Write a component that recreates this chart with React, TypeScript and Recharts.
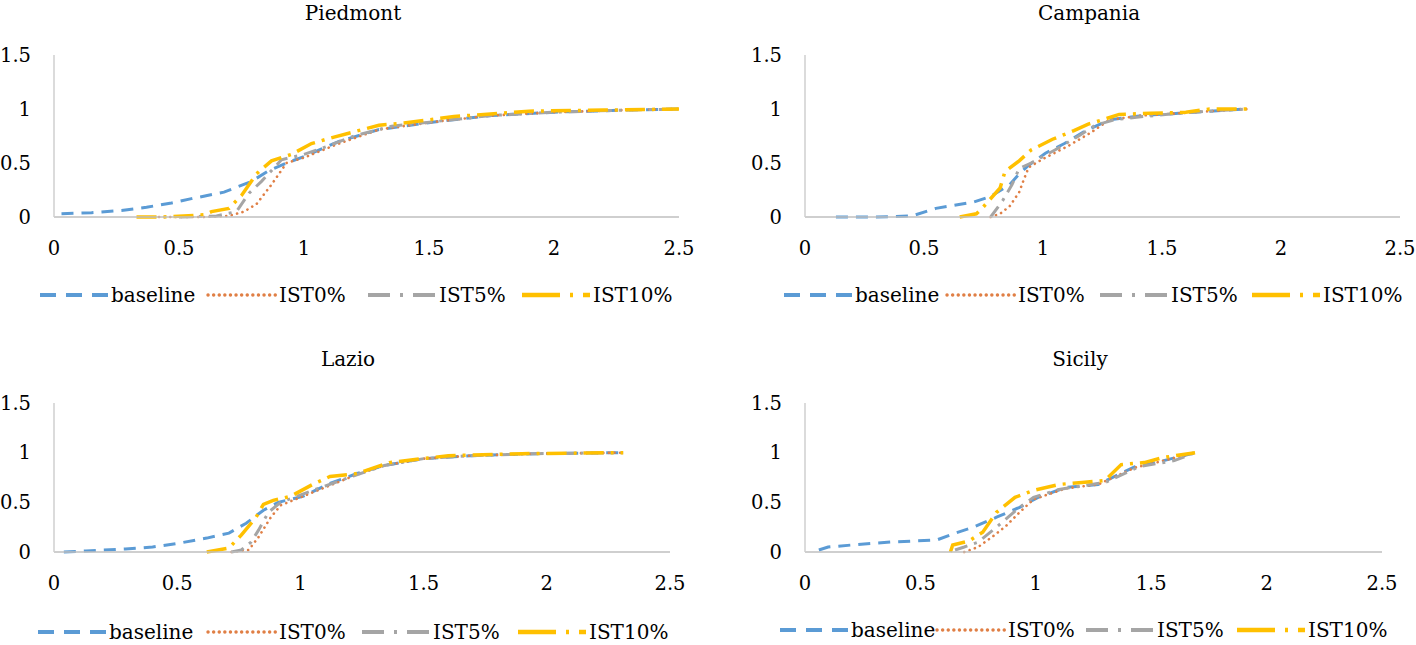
import React from "react";
import { LineChart, Line, XAxis, YAxis } from "recharts";

// ---------- data ([x, y] pairs) ----------
const piedmontBaseline = [[0.03,0.03],[0.15,0.04],[0.27,0.06],[0.37,0.09],[0.47,0.13],[0.55,0.17],[0.68,0.23],[0.79,0.33],[0.86,0.43],[0.93,0.5],[1.0,0.56],[1.14,0.7],[1.3,0.81],[1.52,0.88],[1.75,0.94],[2.0,0.97],[2.28,0.99],[2.5,1.0]];
const piedmontIST0 = [[0.42,0],[0.6,0],[0.7,0.01],[0.76,0.05],[0.81,0.12],[0.87,0.3],[0.93,0.5],[1.0,0.55],[1.14,0.68],[1.3,0.81],[1.52,0.88],[1.75,0.94],[2.0,0.97],[2.28,0.99],[2.5,1.0]];
const piedmontIST5 = [[0.5,0],[0.65,0.01],[0.73,0.05],[0.78,0.22],[0.83,0.33],[0.91,0.53],[1.0,0.58],[1.1,0.66],[1.2,0.75],[1.35,0.84],[1.55,0.89],[1.75,0.94],[2.0,0.97],[2.28,0.99],[2.5,1.0]];
const piedmontIST10 = [[0.33,0],[0.43,0],[0.6,0.02],[0.63,0.05],[0.7,0.08],[0.75,0.2],[0.81,0.4],[0.87,0.52],[0.95,0.58],[1.03,0.68],[1.12,0.74],[1.3,0.85],[1.4,0.87],[1.6,0.93],[1.9,0.98],[2.2,0.99],[2.5,1.0]];

const campaniaBaseline = [[0.13,0],[0.3,0],[0.45,0.01],[0.55,0.08],[0.71,0.14],[0.78,0.19],[0.86,0.3],[0.9,0.4],[0.94,0.48],[1.01,0.59],[1.09,0.68],[1.18,0.8],[1.28,0.9],[1.42,0.94],[1.57,0.96],[1.7,0.98],[1.86,1.0]];
const campaniaIST0 = [[0.78,0],[0.82,0.03],[0.86,0.1],[0.9,0.23],[0.92,0.35],[0.94,0.46],[1.01,0.55],[1.1,0.65],[1.2,0.78],[1.28,0.9],[1.42,0.94],[1.57,0.96],[1.7,0.98],[1.86,1.0]];
const campaniaIST5 = [[0.78,0],[0.83,0.15],[0.87,0.3],[0.9,0.45],[0.95,0.5],[1.05,0.62],[1.15,0.75],[1.22,0.85],[1.3,0.9],[1.42,0.93],[1.57,0.96],[1.7,0.98],[1.86,1.0]];
const campaniaIST10 = [[0.65,0],[0.72,0.03],[0.74,0.07],[0.82,0.27],[0.84,0.42],[0.9,0.52],[0.95,0.62],[1.04,0.72],[1.13,0.8],[1.19,0.86],[1.25,0.9],[1.32,0.95],[1.45,0.96],[1.6,0.97],[1.7,1.0],[1.86,1.0]];

const lazioBaseline = [[0.04,0],[0.13,0.01],[0.29,0.03],[0.4,0.05],[0.51,0.09],[0.62,0.14],[0.71,0.19],[0.78,0.29],[0.85,0.42],[0.91,0.5],[1.01,0.56],[1.12,0.69],[1.23,0.79],[1.34,0.87],[1.5,0.94],[1.69,0.97],[1.96,0.99],[2.31,1.0]];
const lazioIST0 = [[0.72,0],[0.79,0.02],[0.83,0.15],[0.88,0.35],[0.92,0.47],[1.01,0.56],[1.12,0.67],[1.23,0.78],[1.34,0.87],[1.5,0.94],[1.69,0.97],[1.96,0.99],[2.31,1.0]];
const lazioIST5 = [[0.72,0],[0.76,0.02],[0.8,0.1],[0.83,0.22],[0.87,0.4],[0.92,0.5],[1.05,0.62],[1.22,0.77],[1.34,0.87],[1.5,0.94],[1.69,0.97],[1.96,0.99],[2.31,1.0]];
const lazioIST10 = [[0.62,0],[0.71,0.04],[0.76,0.17],[0.82,0.35],[0.85,0.48],[0.89,0.52],[0.96,0.56],[1.05,0.68],[1.12,0.76],[1.23,0.79],[1.36,0.9],[1.6,0.97],[1.9,0.99],[2.31,1.0]];

const sicilyBaseline = [[0.06,0.02],[0.1,0.05],[0.2,0.07],[0.37,0.1],[0.57,0.12],[0.65,0.19],[0.73,0.25],[0.83,0.35],[0.93,0.45],[1.01,0.55],[1.13,0.65],[1.27,0.68],[1.43,0.86],[1.52,0.9],[1.69,1.0]];
const sicilyIST0 = [[0.69,0],[0.75,0.05],[0.81,0.15],[0.87,0.26],[0.93,0.4],[0.99,0.53],[1.13,0.64],[1.27,0.68],[1.43,0.85],[1.52,0.9],[1.69,1.0]];
const sicilyIST5 = [[0.65,0.02],[0.69,0.05],[0.75,0.1],[0.83,0.25],[0.87,0.33],[0.93,0.45],[0.99,0.55],[1.1,0.63],[1.3,0.7],[1.45,0.86],[1.6,0.92],[1.69,1.0]];
const sicilyIST10 = [[0.63,0],[0.64,0.07],[0.71,0.11],[0.77,0.2],[0.83,0.4],[0.91,0.55],[0.99,0.62],[1.1,0.68],[1.2,0.7],[1.3,0.72],[1.37,0.88],[1.47,0.9],[1.55,0.95],[1.69,1.0]];

const seriesNames = ["baseline", "IST0%", "IST5%", "IST10%"];
const xTicks = [0, 0.5, 1, 1.5, 2, 2.5];
const yTicks = [0, 0.5, 1, 1.5];
const panelTitles = ["Piedmont", "Campania", "Lazio", "Sicily"];

// ---------- styles ----------
const FONT = "DejaVu Serif";
const seriesStyles = [
  { color: "#5B9BD5", dash: "12 8", legendDash: "16 10", width: 3, cap: "butt" },
  { color: "#E07F45", dash: "0.1 5.5", legendDash: "0.1 5.5", width: 2.6, cap: "round" },
  { color: "#A5A5A5", dash: "13 7 3 7", legendDash: "22 10 3 10", width: 3, cap: "butt" },
  { color: "#FFC000", dash: "20 7 3 7", legendDash: "38 10 3 10", width: 3.5, cap: "butt" },
];

const toPts = (arr: number[][]) => arr.map(([x, y]) => ({ x, y }));

const panels = [
  { title: panelTitles[0], series: [piedmontBaseline, piedmontIST0, piedmontIST5, piedmontIST10],
    left: 0, top: 0, width: 700, height: 260, yAxisW: 54, mRight: 21, mTop: 55, plotBottom: 217,
    titleX: 353, titleY: 13, legendY: 295, legendX: [40, 208, 368, 522] },
  { title: panelTitles[1], series: [campaniaBaseline, campaniaIST0, campaniaIST5, campaniaIST10],
    left: 745, top: 0, width: 671, height: 260, yAxisW: 60, mRight: 16, mTop: 55, plotBottom: 217,
    titleX: 1089, titleY: 13, legendY: 295, legendX: [784, 947, 1100, 1252] },
  { title: panelTitles[2], series: [lazioBaseline, lazioIST0, lazioIST5, lazioIST10],
    left: 0, top: 340, width: 700, height: 255, yAxisW: 54, mRight: 30, mTop: 63, plotBottom: 552,
    titleX: 348, titleY: 359, legendY: 632, legendX: [38, 208, 362, 518] },
  { title: panelTitles[3], series: [sicilyBaseline, sicilyIST0, sicilyIST5, sicilyIST10],
    left: 745, top: 340, width: 667, height: 255, yAxisW: 60, mRight: 30, mTop: 63, plotBottom: 552,
    titleX: 1080, titleY: 359, legendY: 630, legendX: [780, 937, 1086, 1237] },
];

const YTick = (props: any) => {
  const { x, y, payload } = props;
  return (
    <text x={x} y={y} dy="0.35em" textAnchor="end" fontFamily={FONT} fontSize={19.5} fill="#000">
      {payload.value}
    </text>
  );
};

const XTick = (props: any) => {
  const { x, y, payload } = props;
  return (
    <text x={x} y={y} dy="0.71em" textAnchor="middle" fontFamily={FONT} fontSize={19.5} fill="#000">
      {payload.value}
    </text>
  );
};

const Legend = ({ p }: { p: any }) => {
  const sampleLen = 68;
  return (
    <svg style={{ position: "absolute", left: 0, top: p.legendY - 15 }} width={1416} height={30}>
      {seriesNames.map((name, i) => {
        const s = seriesStyles[i];
        const sx = p.legendX[i];
        return (
          <g key={name}>
            <line x1={sx} x2={sx + sampleLen} y1={15} y2={15} stroke={s.color}
              strokeWidth={s.width + 0.8} strokeDasharray={s.legendDash} strokeLinecap={s.cap as any} />
            <text x={sx + sampleLen + 3} y={22} fontFamily={FONT} fontSize={20} fill="#000">{name}</text>
          </g>
        );
      })}
    </svg>
  );
};

const Panel = ({ p }: { p: any }) => {
  const xAxisH = p.top + p.height - p.plotBottom;
  return (
    <>
      <div style={{ position: "absolute", left: p.titleX - 100, top: p.titleY - 12, width: 200,
        textAlign: "center", fontFamily: FONT, fontSize: 20, lineHeight: "24px", color: "#000" }}>
        {p.title}
      </div>
      <div style={{ position: "absolute", left: p.left, top: p.top }}>
        <LineChart width={p.width} height={p.height}
          margin={{ top: p.mTop, right: p.mRight, left: 0, bottom: 0 }}>
          <XAxis type="number" dataKey="x" domain={[0, 2.5]} ticks={xTicks} interval={0}
            allowDuplicatedCategory={false} height={xAxisH} tickLine={false} tickSize={0}
            tickMargin={24} axisLine={{ stroke: "#BFBFBF", strokeWidth: 1.5 }} tick={<XTick />} />
          <YAxis type="number" dataKey="y" domain={[0, 1.5]} ticks={yTicks} interval={0}
            width={p.yAxisW} tickLine={false} tickSize={0} tickMargin={23}
            axisLine={{ stroke: "#CFCFCF", strokeWidth: 1.5 }} tick={<YTick />} />
          {p.series.map((arr: number[][], i: number) => (
            <Line key={seriesNames[i]} name={seriesNames[i]} data={toPts(arr)} dataKey="y"
              type="linear" stroke={seriesStyles[i].color} strokeWidth={seriesStyles[i].width}
              strokeDasharray={seriesStyles[i].dash} strokeLinecap={seriesStyles[i].cap as any}
              dot={false} activeDot={false} isAnimationActive={false} />
          ))}
        </LineChart>
      </div>
      <Legend p={p} />
    </>
  );
};

export default function App() {
  return (
    <div style={{ position: "absolute", left: 0, top: 0, width: 1416, height: 645, background: "#fff" }}>
      {panels.map((p) => <Panel key={p.title} p={p} />)}
    </div>
  );
}
